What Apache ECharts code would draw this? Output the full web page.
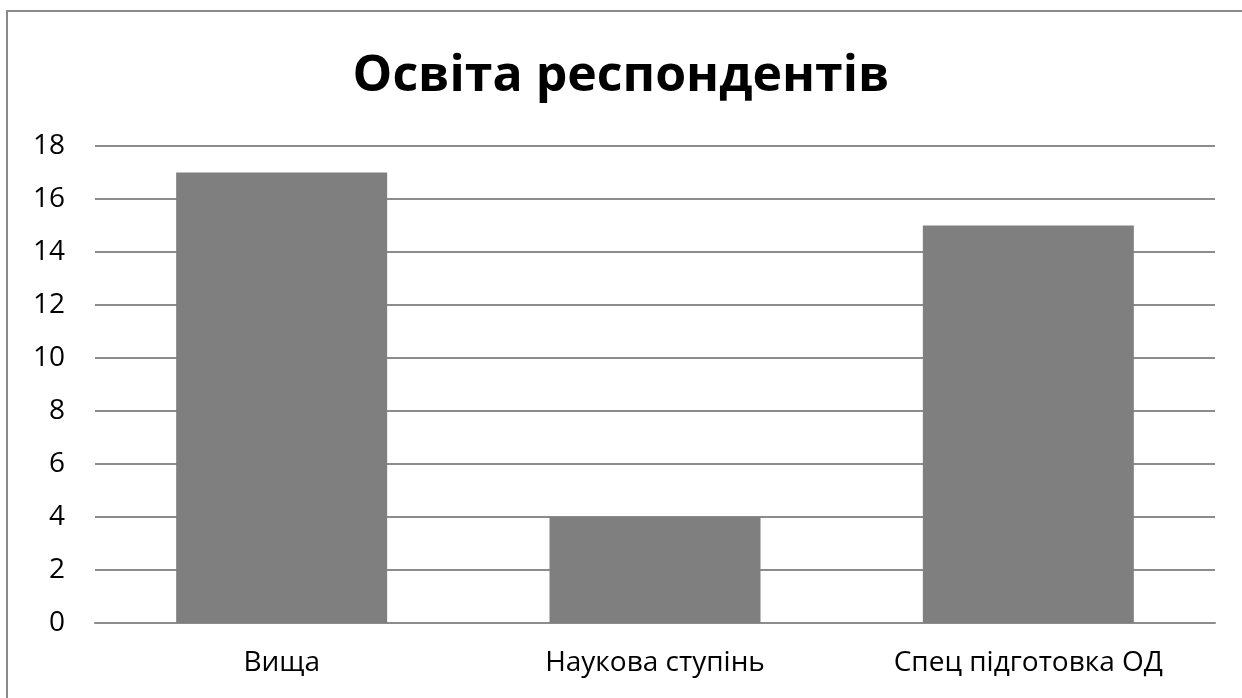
<!DOCTYPE html>
<html><head><meta charset="utf-8">
<script src="https://cdn.jsdelivr.net/npm/echarts@6/dist/echarts.min.js"></script>
<style>html,body{margin:0;padding:0;background:#fff}#c{width:1242px;height:698px}</style>
</head><body><div id="c"></div>
<script>
const categories = ['Вища', 'Наукова ступінь', 'Спец підготовка ОД'];
const values = [17, 4, 15];
const yTicks = { min: 0, max: 18, interval: 2 };
const chart = echarts.init(document.getElementById('c'));
chart.setOption({
  animation: false,
  backgroundColor: '#fff',
  title: {
    text: 'Освіта респондентів', left: 'center', top: 47,
    textStyle: { fontFamily: 'Open Sans', fontSize: 50, fontWeight: 'bold', color: '#000' }
  },
  graphic: [{ type: 'rect', shape: { x: 7, y: 11, width: 1240, height: 700 },
    style: { fill: 'none', stroke: '#8a8a8a', lineWidth: 2 } }],
  grid: { left: 95, right: 27, top: 146, bottom: 75 },
  xAxis: {
    type: 'category', data: categories,
    axisLine: { lineStyle: { color: '#8c8c8c', width: 2 } },
    axisTick: { show: false },
    axisLabel: { color: '#000', fontFamily: 'Open Sans', fontSize: 28, margin: 26 }
  },
  yAxis: {
    type: 'value', min: yTicks.min, max: yTicks.max, interval: yTicks.interval,
    axisLine: { show: false }, axisTick: { show: false },
    splitLine: { lineStyle: { color: '#8c8c8c', width: 2 } },
    axisLabel: { color: '#000', fontFamily: 'Open Sans', fontSize: 28, margin: 30 }
  },
  series: [{ type: 'bar', data: values, barWidth: 211, itemStyle: { color: '#7f7f7f' } }]
});
</script></body></html>
